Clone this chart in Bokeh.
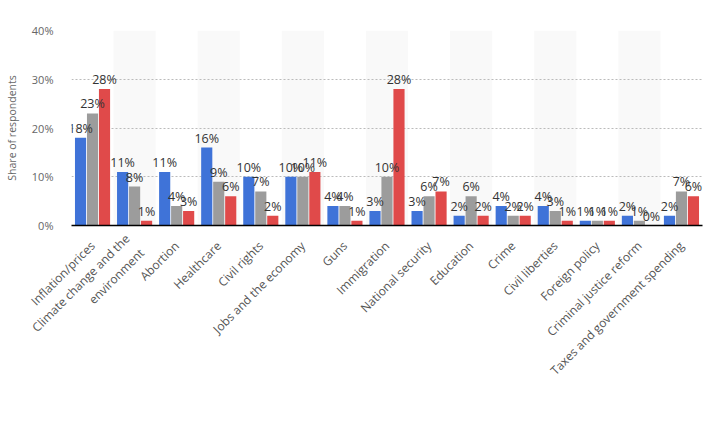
import math
from bokeh.plotting import figure
from bokeh.models import ColumnDataSource, FactorRange, Range1d, Legend, LegendItem, FixedTicker
from bokeh.transform import dodge
from bokeh.core.properties import value
from bokeh.embed import file_html
from bokeh.resources import INLINE

categories = [
    "Inflation/prices", "Climate change and the environment", "Abortion", "Healthcare",
    "Civil rights", "Jobs and the economy", "Guns", "Immigration", "National security",
    "Education", "Crime", "Civil liberties", "Foreign policy", "Criminal justice reform",
    "Taxes and government spending",
]
# how the long category is wrapped on the axis
wrapped = {"Climate change and the environment": "Climate change and the\nenvironment"}
democrats = [18, 11, 11, 16, 10, 10, 4, 3, 3, 2, 4, 4, 1, 2, 2]
independents = [23, 8, 4, 9, 7, 10, 4, 10, 6, 6, 2, 3, 1, 1, 7]
republicans = [28, 1, 3, 6, 2, 11, 1, 28, 7, 2, 2, 1, 1, 0, 6]
y_ticks = [0, 10, 20, 30, 40]
y_tick_labels = ["0%", "10%", "20%", "30%", "40%"]
series_names = ["Democrats", "Independents", "Republicans"]
colors = ["#3f73d8", "#9c9c9c", "#e04a4a"]

FONT = "Open Sans"

factors = [wrapped.get(c, c) for c in categories]

src = ColumnDataSource(data=dict(
    cat=factors,
    dem=democrats, ind=independents, rep=republicans,
    dem_l=[f"{v}%" for v in democrats],
    ind_l=[f"{v}%" for v in independents],
    rep_l=[f"{v}%" for v in republicans],
))

p = figure(
    x_range=FactorRange(*factors, range_padding=0),
    y_range=Range1d(0, 40),
    frame_width=631, frame_height=195,
    output_backend="svg", toolbar_location=None,
    min_border_left=71, min_border_right=6, min_border_top=30, min_border_bottom=0,
)
p.outline_line_color = None
p.background_fill_color = "white"

# alternating bands
band_cats = [c for i, c in enumerate(factors) if i % 2 == 1]
band_src = ColumnDataSource(data=dict(cat=band_cats, top=[40] * len(band_cats)))
bands = p.vbar(x="cat", top="top", bottom=0, width=1.0, source=band_src,
               fill_color="#f9f9f9", line_color=None)
bands.level = "image"

cols = ["dem", "ind", "rep"]
offsets = [-0.285, 0.0, 0.285]
for col, off, colr in zip(cols, offsets, colors):
    p.vbar(x=dodge("cat", off, range=p.x_range), top=col, width=0.265,
           source=src, fill_color=colr, line_color=None)
for col, off in zip(cols, offsets):
    p.text(x=dodge("cat", off, range=p.x_range), y=col, text=col + "_l", source=src,
           text_align="center", text_baseline="bottom", y_offset=-1,
           text_font=value(FONT), text_font_size="12.5px", text_color="#333333")

# legend with circle icons (invisible placeholder markers)
leg_items = []
for name, colr in zip(series_names, colors):
    s = p.scatter(x=[factors[0]], y=[float("nan")], marker="circle", size=12,
                  fill_color=colr, line_color=None)
    leg_items.append(LegendItem(label=name, renderers=[s]))
legend = Legend(items=leg_items, orientation="horizontal", location=(128, 22),
                border_line_color=None, background_fill_alpha=0,
                label_text_font=FONT, label_text_font_size="12px", label_text_color="#333333",
                glyph_width=26, glyph_height=26, spacing=6, label_standoff=3,
                padding=4, margin=12)
p.add_layout(legend, "below")

# axes
p.yaxis.ticker = FixedTicker(ticks=y_ticks)
p.yaxis.major_label_overrides = {t: l for t, l in zip(y_ticks, y_tick_labels)}
p.yaxis.axis_line_color = None
p.yaxis.major_tick_line_color = None
p.yaxis.minor_tick_line_color = None
p.yaxis.major_label_text_font = FONT
p.yaxis.major_label_text_font_size = "11px"
p.yaxis.major_label_text_color = "#666666"
p.yaxis.major_label_standoff = 12
p.yaxis.axis_label = "Share of respondents"
p.yaxis.axis_label_text_font = FONT
p.yaxis.axis_label_text_font_size = "10.5px"
p.yaxis.axis_label_text_font_style = "normal"
p.yaxis.axis_label_text_color = "#666666"
p.yaxis.axis_label_standoff = 10

p.xaxis.axis_line_color = "#000000"
p.xaxis.axis_line_width = 1.5
p.xaxis.major_tick_line_color = None
p.xaxis.minor_tick_line_color = None
p.xaxis.major_label_orientation = math.pi / 4
p.xaxis.major_label_text_font = FONT
p.xaxis.major_label_text_font_size = "12px"
p.xaxis.major_label_text_color = "#555555"
p.xaxis.major_label_standoff = 12

p.xgrid.grid_line_color = None
p.ygrid.grid_line_color = "#bbbbbb"
p.ygrid.grid_line_dash = "2 2"
p.ygrid.grid_line_width = 1

open("out.html", "w").write(file_html(p, INLINE))
